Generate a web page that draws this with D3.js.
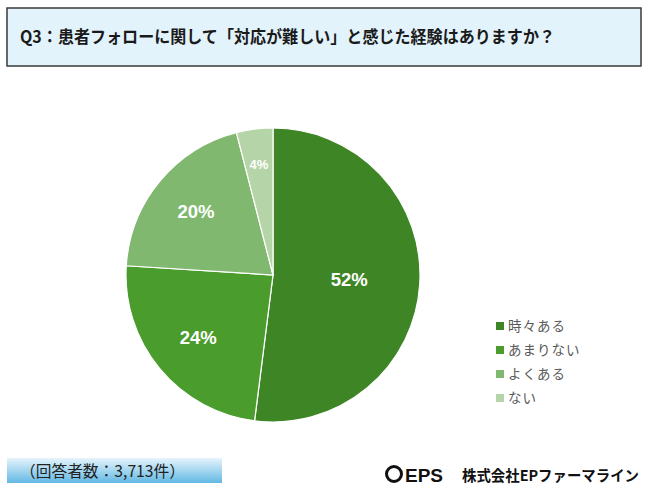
<!DOCTYPE html>
<html>
<head>
<meta charset="utf-8">
<script src="https://cdn.jsdelivr.net/npm/d3@7"></script>
<style>
  body { margin: 0; background: #fff; }
  svg { display: block; }
</style>
</head>
<body>
<div id="chart"></div>
<script>
// data
const categories = ["時々ある", "あまりない", "よくある", "ない"];
const values = [52, 24, 20, 4];
const colors = ["#3e8526", "#4a9c2d", "#7fb86e", "#b5d4a8"];
const titleText = "Q3：患者フォローに関して「対応が難しい」と感じた経験はありますか？";
const respondents = "（回答者数：3,713件）";

const width = 650, height = 491;
const jp = "'Noto Sans CJK JP', 'Noto Sans', sans-serif";

const svg = d3.select("#chart")
  .append("svg")
    .attr("width", width)
    .attr("height", height);

// title box
svg.append("rect")
  .attr("x", 7).attr("y", 8)
  .attr("width", 634).attr("height", 58)
  .attr("fill", "#e3f3fc")
  .attr("stroke", "#3a3a3a")
  .attr("stroke-width", 1.5);

svg.append("text")
  .attr("x", 20).attr("y", 43)
  .attr("textLength", 535)
  .attr("lengthAdjust", "spacingAndGlyphs")
  .text(titleText)
  .style("font-family", jp)
  .style("font-weight", "bold")
  .style("font-size", "17px")
  .style("fill", "#1a1a1a");

// pie
const cx = 273, cy = 275, R = 147;
const total = d3.sum(values);

const pie = d3.pie().sort(null).value(d => d)(values);
const arc = d3.arc().innerRadius(0).outerRadius(R);

const g = svg.append("g")
  .attr("transform", "translate(" + cx + "," + cy + ")");

g.selectAll("path")
  .data(pie)
  .enter()
  .append("path")
    .attr("d", arc)
    .attr("fill", (d, i) => colors[i])
    .attr("stroke", "#fff")
    .attr("stroke-width", 1.2);

// labels, smaller slices sit further out
g.selectAll(".lbl")
  .data(pie)
  .enter()
  .append("text")
    .attr("class", "lbl")
    .attr("transform", d => {
      const r = R * (0.78 - 0.5 * d.value / total);
      const a = (d.startAngle + d.endAngle) / 2;
      return "translate(" + (r * Math.sin(a)) + "," + (-r * Math.cos(a)) + ")";
    })
    .attr("text-anchor", "middle")
    .attr("dy", "0.36em")
    .text(d => d.value + "%")
    .style("font-family", "'Liberation Sans', Arial, sans-serif")
    .style("font-weight", "bold")
    .style("font-size", d => d.value < 10 ? "13px" : "18.5px")
    .style("fill", "#fff");

// legend
const legend = svg.append("g")
  .attr("transform", "translate(496,326)");

const item = legend.selectAll("g")
  .data(categories)
  .enter()
  .append("g")
    .attr("transform", (d, i) => "translate(0," + (i * 24) + ")");

item.append("rect")
  .attr("x", 0).attr("y", -4)
  .attr("width", 8).attr("height", 8)
  .attr("fill", (d, i) => colors[i]);

item.append("text")
  .attr("x", 12)
  .attr("dy", "0.36em")
  .text(d => d)
  .style("font-family", jp)
  .style("font-size", "13.5px")
  .style("letter-spacing", "1px")
  .style("fill", "#595959");

// respondents box
const grad = svg.append("defs")
  .append("linearGradient")
    .attr("id", "boxGrad")
    .attr("x1", 0).attr("y1", 0).attr("x2", 0).attr("y2", 1);
grad.append("stop").attr("offset", "0%").attr("stop-color", "#e6f4fc");
grad.append("stop").attr("offset", "100%").attr("stop-color", "#62b8e4");

svg.append("rect")
  .attr("x", 7).attr("y", 458)
  .attr("width", 215).attr("height", 25)
  .attr("fill", "url(#boxGrad)");

svg.append("text")
  .attr("x", 20).attr("y", 477)
  .attr("textLength", 165)
  .attr("lengthAdjust", "spacingAndGlyphs")
  .text(respondents)
  .style("font-family", jp)
  .style("font-size", "16px")
  .style("fill", "#222");

// logo
svg.append("circle")
  .attr("cx", 394).attr("cy", 474)
  .attr("r", 7.5)
  .attr("fill", "none")
  .attr("stroke", "#111")
  .attr("stroke-width", 3);

svg.append("text")
  .attr("x", 405).attr("y", 482)
  .text("EPS")
  .style("font-family", "'Liberation Sans', Arial, sans-serif")
  .style("font-weight", "bold")
  .style("font-size", "19px")
  .style("fill", "#111");

svg.append("text")
  .attr("x", 462).attr("y", 481)
  .attr("textLength", 177)
  .attr("lengthAdjust", "spacingAndGlyphs")
  .text("株式会社EPファーマライン")
  .style("font-family", jp)
  .style("font-weight", "bold")
  .style("font-size", "15px")
  .style("fill", "#111");
</script>
</body>
</html>
